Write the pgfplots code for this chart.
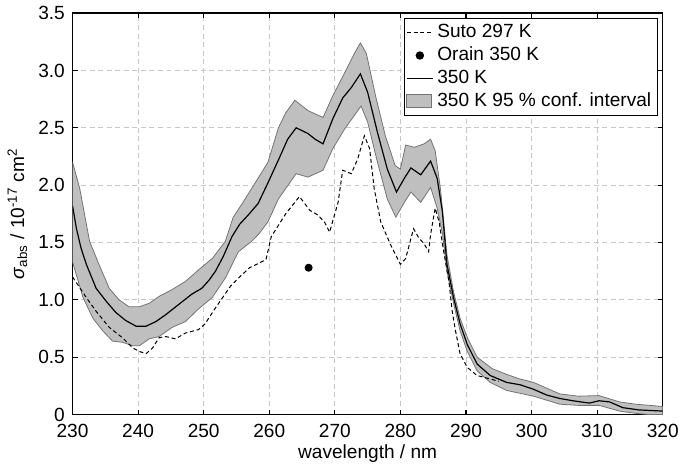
\documentclass[border=0pt]{standalone}
\usepackage{fontspec}
\setmainfont{Liberation Sans}
\usepackage{pgfplots}
\pgfplotsset{compat=1.18}
\definecolor{bandfill}{gray}{0.75}
\definecolor{bandedge}{gray}{0.45}
\definecolor{gridc}{gray}{0.78}
\pgfplotsset{
  lgline/.style={legend image code/.code={\draw[##1] (0pt,0pt) -- (13pt,0pt);}},
  lgmark/.style={legend image code/.code={\draw[##1] plot coordinates {(6.5pt,0pt)};}},
  lgarea/.style={legend image code/.code={\draw[##1] (0pt,-3.3pt) rectangle (12.5pt,3.3pt);}},
}
\begin{document}
\fontsize{9.6}{11.5}\selectfont
\begin{tikzpicture}
\begin{axis}[
  scale only axis,
  width=297pt, height=202pt,
  xmin=230, xmax=320, ymin=0, ymax=3.5,
  xtick={230,240,...,320},
  ytick={0,0.5,1,1.5,2,2.5,3,3.5},
  yticklabels={0,0.5,1.0,1.5,2.0,2.5,3.0,3.5},
  /pgf/number format/assume math mode=true,
  tick align=inside,
  major tick length=2.5pt,
  every tick/.style={black, line width=0.6pt},
  axis line style={line width=0.7pt},
  grid=major,
  major grid style={gridc, line width=0.5pt, dash pattern=on 2.5pt off 1.8pt},
  xticklabel style={yshift=-1.5pt},
  yticklabel style={xshift=-0.5pt},
  xlabel={wavelength / nm},
  ylabel={\textit{σ}\textsubscript{abs} / 10\textsuperscript{-17} cm\textsuperscript{2}},
  xlabel style={yshift=3pt},
  ylabel style={yshift=-1pt},
  legend cell align=left,
  legend style={at={(rel axis cs:1,1)}, anchor=north east, xshift=-2.5pt, yshift=-2.5pt,
    draw=black, line width=0.6pt, inner sep=1pt, row sep=-0.8pt,
    font=\fontsize{9.6}{11.5}\selectfont},
]
\addlegendimage{lgline, black, line width=0.5pt, dash pattern=on 2pt off 1.4pt}
\addlegendentry{Suto 297 K}
\addlegendimage{lgmark, only marks, mark=*, black, mark size=1.8pt}
\addlegendentry{Orain 350 K}
\addlegendimage{lgline, black, line width=0.6pt}
\addlegendentry{350 K}
\addlegendimage{lgarea, fill=bandfill, draw=bandedge, line width=0.5pt}
\addlegendentry{350 K 95 \% conf. interval}

% 95 % confidence band: upper edge, then lower edge backwards
\addplot[forget plot, fill=bandfill, draw=bandedge, line width=0.4pt] coordinates {
(230,2.20) (231.1,1.97) (232.6,1.51) (234.1,1.30) (235.6,1.10) (237.1,1.00)
(238.6,0.94) (240.2,0.94) (241.7,0.97) (243.2,1.03) (245.2,1.09) (247.2,1.16)
(249.2,1.26) (251.3,1.36) (253.3,1.51) (254.5,1.72) (256,1.85) (257.3,1.97)
(258.3,2.06) (259.8,2.20) (261.4,2.50) (262.5,2.63) (263.9,2.74) (265.9,2.65)
(268.2,2.59) (269.7,2.78) (271.5,2.98) (273,3.15) (273.9,3.24) (274.8,3.15)
(276.2,2.78) (277.7,2.43) (279.2,2.17) (280,2.14) (280.8,2.35) (282.1,2.33)
(283.6,2.36) (284.6,2.40) (285.3,2.30) (286.1,1.97) (287.1,1.39) (288.1,1.07)
(289.1,0.84) (290.2,0.67) (291.7,0.50) (294,0.40) (296.2,0.35) (298.2,0.31)
(300.3,0.28) (302.3,0.23) (304.3,0.18) (307.1,0.16) (310.3,0.165) (313.4,0.11)
(315.9,0.09) (318,0.08) (320,0.07)
(320,0.0) (318,0.0) (315.9,0.01) (313.4,0.03) (310.3,0.08) (307.1,0.08)
(304.3,0.09) (300.3,0.16) (296.2,0.21) (293.7,0.28) (291.7,0.38) (290.2,0.55)
(289.1,0.73) (288.1,0.97) (287.1,1.25) (286.4,1.58) (285.6,1.80) (284.6,1.98)
(283.1,1.85) (281.6,1.94) (280.6,1.85) (279.3,1.72) (278,1.88) (276.5,2.20)
(275,2.55) (274,2.69) (273,2.61) (271.5,2.49) (269.7,2.32) (268.2,2.13)
(265.9,2.07) (264.1,2.10) (261.4,1.88) (259.8,1.68) (258.5,1.58) (257.3,1.51)
(255.3,1.42) (253.3,1.19) (251.3,1.02) (249.2,0.92) (247.2,0.81) (245.2,0.76)
(243.2,0.68) (241.7,0.66) (240.2,0.60) (239.2,0.60) (237.6,0.63) (236.1,0.64)
(234.6,0.73) (233.1,0.84) (231.6,1.02) (230,1.33)
} -- cycle;

% Suto 297 K
\addplot[forget plot, black, line width=0.5pt, dash pattern=on 2pt off 1.4pt] coordinates {
(230,1.20) (232.1,1.02) (233.6,0.90) (235.6,0.76) (237.6,0.67) (239.2,0.58)
(240.2,0.55) (241.2,0.53) (242.2,0.58) (243.2,0.67) (244.2,0.68) (245.7,0.66)
(247.2,0.71) (249.2,0.74) (250.2,0.79) (251.8,0.93) (254.1,1.12) (255.3,1.19)
(257,1.28) (259.5,1.35) (260.3,1.55) (262.5,1.75) (264.6,1.90) (266.2,1.78)
(267.4,1.74) (268.4,1.68) (269.2,1.59) (270.5,1.85) (271.2,2.13) (272.5,2.10)
(273.5,2.23) (274.5,2.43) (275.3,2.32) (276.0,1.97) (277.0,1.68) (278.5,1.48)
(280.0,1.31) (280.8,1.36) (282.0,1.62) (282.8,1.54) (283.6,1.49) (284.3,1.42)
(284.6,1.57) (285.3,1.80) (285.9,1.68) (286.6,1.42) (287.4,1.16) (287.9,0.90)
(288.4,0.73) (289.1,0.53) (290.2,0.41) (291.7,0.34) (293.7,0.31) (295,0.29)
};

% 350 K
\addplot[forget plot, black, line width=0.6pt] coordinates {
(230,1.82) (230.6,1.62) (231.3,1.45) (232.1,1.31) (233.6,1.10) (235.1,0.99)
(236.6,0.89) (238.1,0.82) (239.7,0.77) (241.2,0.77) (242.7,0.81) (244.2,0.87)
(246.2,0.96) (248.2,1.05) (249.7,1.10) (250.8,1.17) (251.8,1.25) (253,1.38)
(254.3,1.55) (255.5,1.66) (256.8,1.74) (258.3,1.84) (259.8,2.02) (261.4,2.22)
(262.8,2.40) (264.1,2.50) (265.9,2.45) (267,2.40) (268.2,2.36) (269.7,2.58)
(271.2,2.76) (272.5,2.85) (273.9,2.97) (275,2.81) (276.5,2.46) (278.0,2.14)
(279.4,1.94) (280.6,2.06) (281.6,2.15) (283.1,2.09) (284.6,2.21) (285.6,2.06)
(286.4,1.77) (287.1,1.31) (288.1,1.02) (289.1,0.79) (290.2,0.61) (291.7,0.44)
(293.7,0.34) (296.2,0.28) (298.2,0.26) (300.3,0.22) (302.3,0.17) (304.3,0.14)
(306.3,0.12) (308.8,0.10) (310.3,0.12) (311.9,0.11) (313.9,0.06) (316.4,0.04)
(320,0.03)
};

% Orain 350 K
\addplot[forget plot, only marks, mark=*, black, mark size=1.8pt] coordinates {(266,1.28)};
\end{axis}
% page frame with the reference's margins round the axis
\path (current axis.south west) ++(-36.5pt,-28pt) (current axis.north east) ++(9pt,5pt);
\end{tikzpicture}
\end{document}
